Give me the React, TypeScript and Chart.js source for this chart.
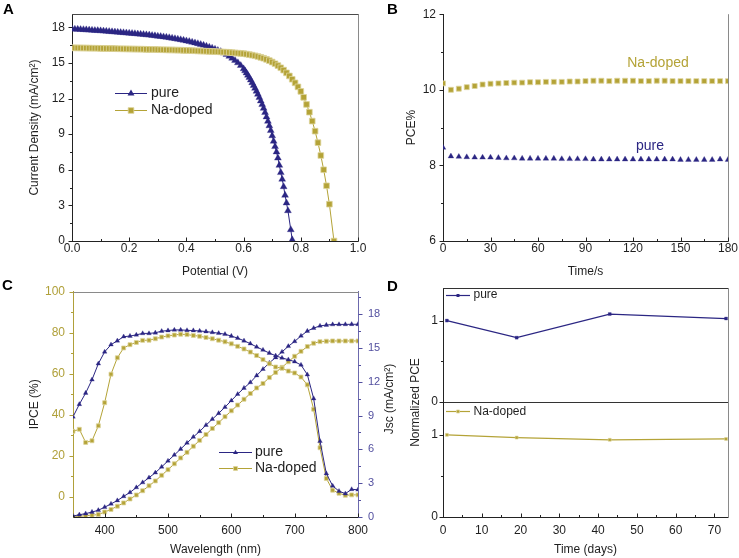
import React, { useEffect, useRef } from "react";
import { Chart, registerables } from "chart.js";

Chart.register(...registerables);

const FONT = "'Liberation Sans', Arial, Helvetica, sans-serif";
Chart.defaults.font.family = FONT;
Chart.defaults.font.size = 12;

const seriesNames = ["pure", "Na-doped"];

// ---------------- Panel A : J-V curves ----------------
const jvPureVoltage = [
  0, 0.01, 0.02, 0.03, 0.04, 0.05, 0.06, 0.07, 0.08, 0.09,
  0.1, 0.11, 0.12, 0.13, 0.14, 0.15, 0.16, 0.17, 0.18, 0.19,
  0.2, 0.21, 0.22, 0.23, 0.24, 0.25, 0.26, 0.27, 0.28, 0.29,
  0.3, 0.31, 0.32, 0.33, 0.34, 0.35, 0.36, 0.37, 0.38, 0.39,
  0.4, 0.41, 0.42, 0.43, 0.44, 0.45, 0.46, 0.47, 0.48, 0.49,
  0.5, 0.51, 0.52, 0.53, 0.54, 0.55, 0.56, 0.57, 0.58, 0.59,
  0.6, 0.605, 0.61, 0.615, 0.62, 0.625, 0.63, 0.635, 0.64, 0.645,
  0.65, 0.655, 0.66, 0.665, 0.67, 0.675, 0.68, 0.685, 0.69, 0.695,
  0.7, 0.705, 0.71, 0.715, 0.72, 0.725, 0.73, 0.735, 0.74, 0.745,
  0.75, 0.755, 0.765, 0.77,
];
const jvPureCurrent = [
  17.86, 17.84, 17.83, 17.81, 17.8, 17.78, 17.76, 17.75, 17.73, 17.72,
  17.7, 17.68, 17.66, 17.64, 17.62, 17.6, 17.58, 17.56, 17.54, 17.52,
  17.5, 17.48, 17.46, 17.43, 17.41, 17.39, 17.36, 17.34, 17.31, 17.28,
  17.25, 17.22, 17.19, 17.15, 17.12, 17.08, 17.04, 17.0, 16.95, 16.9,
  16.85, 16.8, 16.74, 16.68, 16.62, 16.55, 16.48, 16.4, 16.32, 16.24,
  16.15, 16.05, 15.95, 15.83, 15.7, 15.55, 15.39, 15.21, 15.01, 14.78,
  14.5, 14.33, 14.15, 13.96, 13.76, 13.55, 13.33, 13.1, 12.86, 12.61,
  12.35, 12.08, 11.79, 11.49, 11.17, 10.82, 10.45, 10.08, 9.7, 9.3,
  8.86, 8.4, 7.95, 7.5, 6.98, 6.37, 5.76, 5.2, 4.57, 3.85,
  3.2, 2.55, 0.95, 0.1,
];
const jvNaVoltage = [
  0, 0.01, 0.02, 0.03, 0.04, 0.05, 0.06, 0.07, 0.08, 0.09,
  0.1, 0.11, 0.12, 0.13, 0.14, 0.15, 0.16, 0.17, 0.18, 0.19,
  0.2, 0.21, 0.22, 0.23, 0.24, 0.25, 0.26, 0.27, 0.28, 0.29,
  0.3, 0.31, 0.32, 0.33, 0.34, 0.35, 0.36, 0.37, 0.38, 0.39,
  0.4, 0.41, 0.42, 0.43, 0.44, 0.45, 0.46, 0.47, 0.48, 0.49,
  0.5, 0.51, 0.52, 0.53, 0.54, 0.55, 0.56, 0.57, 0.58, 0.59,
  0.6, 0.61, 0.62, 0.63, 0.64, 0.65, 0.66, 0.67, 0.68, 0.69,
  0.7, 0.71, 0.72, 0.73, 0.74, 0.75, 0.76, 0.77, 0.78, 0.79,
  0.8, 0.81, 0.82, 0.83, 0.84, 0.85, 0.86, 0.87, 0.88, 0.89,
  0.9, 0.916,
];
const jvNaCurrent = [
  16.27, 16.27, 16.26, 16.26, 16.25, 16.25, 16.24, 16.24, 16.23, 16.23,
  16.22, 16.22, 16.21, 16.21, 16.2, 16.2, 16.19, 16.19, 16.18, 16.18,
  16.17, 16.17, 16.16, 16.16, 16.15, 16.15, 16.14, 16.14, 16.13, 16.13,
  16.12, 16.11, 16.11, 16.1, 16.09, 16.09, 16.08, 16.07, 16.07, 16.06,
  16.05, 16.04, 16.03, 16.02, 16.01, 16.0, 15.99, 15.98, 15.97, 15.96,
  15.95, 15.94, 15.93, 15.91, 15.9, 15.88, 15.86, 15.84, 15.82, 15.8,
  15.78, 15.74, 15.7, 15.65, 15.6, 15.54, 15.47, 15.39, 15.3, 15.19,
  15.07, 14.93, 14.77, 14.59, 14.39, 14.16, 13.9, 13.62, 13.32, 12.98,
  12.6, 12.1, 11.5, 10.85, 10.1, 9.25, 8.28, 7.2, 6.0, 4.65,
  3.1, 0.0,
];
const jvVoltageTicks = [0, 0.2, 0.4, 0.6, 0.8, 1.0];
const jvVoltageMinor = [0.1, 0.3, 0.5, 0.7, 0.9];
const jvCurrentTicks = [0, 3, 6, 9, 12, 15, 18];
const jvCurrentMinor = [1.5, 4.5, 7.5, 10.5, 13.5, 16.5];

// ---------------- Panel B : PCE vs time ----------------
const pceTime = [
  0, 5, 10, 15, 20, 25, 30, 35, 40, 45, 50, 55, 60, 65, 70, 75, 80, 85, 90,
  95, 100, 105, 110, 115, 120, 125, 130, 135, 140, 145, 150, 155, 160, 165, 170, 175, 180,
];
const pceNa = [
  10.17, 10.0, 10.03, 10.07, 10.1, 10.14, 10.16, 10.17, 10.18, 10.19,
  10.19, 10.2, 10.2, 10.21, 10.21, 10.21, 10.22, 10.22, 10.23, 10.24,
  10.24, 10.23, 10.24, 10.24, 10.24, 10.23, 10.23, 10.24, 10.24, 10.23,
  10.23, 10.23, 10.23, 10.23, 10.23, 10.23, 10.23,
];
const pcePure = [
  8.47, 8.24, 8.23, 8.22, 8.21, 8.21, 8.21, 8.2, 8.19, 8.19,
  8.18, 8.18, 8.18, 8.18, 8.18, 8.17, 8.17, 8.17, 8.17, 8.16,
  8.16, 8.16, 8.16, 8.16, 8.16, 8.16, 8.16, 8.16, 8.16, 8.16,
  8.15, 8.15, 8.15, 8.15, 8.15, 8.16, 8.15,
];
const pceTimeTicks = [0, 30, 60, 90, 120, 150, 180];
const pceTimeMinor = [15, 45, 75, 105, 135, 165];
const pceTicks = [6, 8, 10, 12];
const pceMinor = [7, 9, 11];

// ---------------- Panel C : IPCE and integrated Jsc ----------------
const wavelengths = [
  350, 360, 370, 380, 390, 400, 410, 420, 430, 440, 450, 460, 470, 480, 490, 500,
  510, 520, 530, 540, 550, 560, 570, 580, 590, 600, 610, 620, 630, 640, 650, 660,
  670, 680, 690, 700, 710, 720, 730, 740, 750, 760, 770, 780, 790, 800,
];
const ipcePure = [
  38.9, 45.0, 50.5, 57.0, 64.8, 70.6, 74.1, 76.0, 78.0, 78.3,
  78.9, 79.6, 79.6, 79.9, 80.7, 81.0, 81.3, 81.3, 81.1, 81.0,
  80.8, 80.5, 80.1, 79.7, 79.2, 78.3, 77.3, 76.0, 74.6, 73.0,
  71.5, 70.0, 68.7, 67.6, 66.8, 65.8, 64.2, 59.5, 47.8, 27.0,
  11.2, 5.2, 2.6, 1.4, 3.5, 3.3,
];
const ipceNa = [
  31.8, 32.8, 26.4, 27.2, 34.5, 45.8, 59.7, 67.7, 72.5, 74.1,
  75.2, 76.2, 76.3, 77.0, 77.8, 78.4, 78.8, 79.2, 79.0, 78.6,
  78.2, 77.6, 77.0, 76.3, 75.5, 74.5, 73.3, 72.0, 70.5, 68.8,
  66.8, 64.8, 63.2, 62.6, 61.2, 60.3, 58.3, 54.5, 42.6, 23.8,
  8.8, 3.1, 1.6, 0.6, 0.8, 0.8,
];
const jscPure = [
  0.08, 0.2, 0.3, 0.44, 0.6, 0.87, 1.16, 1.46, 1.83, 2.18,
  2.62, 3.06, 3.49, 3.93, 4.45, 4.98, 5.5, 6.03, 6.57, 7.1,
  7.6, 8.15, 8.68, 9.2, 9.75, 10.33, 10.9, 11.44, 11.94, 12.55,
  13.12, 13.68, 14.15, 14.65, 15.15, 15.58, 16.07, 16.5, 16.76, 16.96,
  17.03, 17.08, 17.09, 17.09, 17.1, 17.1,
];
const jscNa = [
  0.0, 0.06, 0.12, 0.16, 0.22, 0.44, 0.67, 0.96, 1.25, 1.6,
  1.95, 2.33, 2.77, 3.2, 3.7, 4.2, 4.72, 5.24, 5.74, 6.28,
  6.8, 7.32, 7.85, 8.37, 8.9, 9.42, 9.93, 10.45, 10.96, 11.45,
  11.85, 12.37, 12.83, 13.28, 13.77, 14.26, 14.7, 15.12, 15.42, 15.56,
  15.6, 15.62, 15.62, 15.62, 15.62, 15.62,
];
const wlTicks = [400, 500, 600, 700, 800];
const wlMinor = [350, 450, 550, 650, 750];
const ipceTicks = [0, 20, 40, 60, 80, 100];
const ipceMinor = [10, 30, 50, 70, 90];
const jscTicks = [0, 3, 6, 9, 12, 15, 18];
const jscMinor = [1.5, 4.5, 7.5, 10.5, 13.5, 16.5, 19.5];

// ---------------- Panel D : normalized PCE vs days ----------------
const stabilityDays = [1, 19, 43, 73];
const normPcePure = [1.0, 0.79, 1.08, 1.025];
const normPceNa = [1.0, 0.967, 0.94, 0.95];
const dayTicks = [0, 10, 20, 30, 40, 50, 60, 70];
const dayMinor = [5, 15, 25, 35, 45, 55, 65];
const normTicks = [0, 1];
const normMinor = [0.5];

// ---------------- styling ----------------
const PURPLE = "#2b2683";
const GOLD = "#b4a337";
const GOLD_HALO = "#ddd49c";
const TEXT = "#1f1f1f";
const AXIS = "#222222";

type Pt = { x: number; y: number };
const toPoints = (xs: number[], ys: number[]): Pt[] => xs.map((x, i) => ({ x, y: ys[i] }));

type TickSpec = { scale: string; values: number[]; len: number; dir: "in" | "out"; color: string };
type TextSpec = { text: string; x: number; y: number; size: number; color: string; bold?: boolean; align?: CanvasTextAlign; rotate?: number };
type LegendSpec = { x1: number; x2: number; y: number; color: string; marker: "triangle" | "rect"; r: number; halo?: string; text: string; tx: number; size: number; lw?: number };
type FrameSpec = { side: "top" | "right" | "bottom"; color: string };
type DecorSpec = { frames?: FrameSpec[]; ticks?: TickSpec[]; legend?: LegendSpec[]; texts?: TextSpec[] };

function drawMarker(ctx: CanvasRenderingContext2D, kind: string, x: number, y: number, r: number, fill: string, halo?: string) {
  ctx.beginPath();
  if (kind === "triangle") {
    ctx.moveTo(x, y - r);
    ctx.lineTo(x + r * 0.866, y + r * 0.5);
    ctx.lineTo(x - r * 0.866, y + r * 0.5);
    ctx.closePath();
  } else {
    const s = r * Math.SQRT1_2;
    ctx.rect(x - s, y - s, 2 * s, 2 * s);
  }
  ctx.fillStyle = fill;
  ctx.fill();
  if (halo) {
    ctx.strokeStyle = halo;
    ctx.lineWidth = 0.8;
    ctx.stroke();
  }
}

const px = (v: number) => Math.round(v) + 0.5;

function decor(spec: DecorSpec) {
  return {
    id: "decor",
    beforeDatasetsDraw(chart: any) {
      const ctx: CanvasRenderingContext2D = chart.ctx;
      const ca = chart.chartArea;
      ctx.save();
      for (const f of spec.frames ?? []) {
        ctx.strokeStyle = f.color;
        ctx.lineWidth = 1;
        ctx.beginPath();
        if (f.side === "top") {
          ctx.moveTo(ca.left, px(ca.top));
          ctx.lineTo(ca.right + 1, px(ca.top));
        } else if (f.side === "bottom") {
          ctx.moveTo(ca.left, px(ca.bottom));
          ctx.lineTo(ca.right + 1, px(ca.bottom));
        } else {
          ctx.moveTo(px(ca.right), ca.top);
          ctx.lineTo(px(ca.right), ca.bottom + 1);
        }
        ctx.stroke();
      }
      ctx.restore();
    },
    afterDraw(chart: any) {
      const ctx: CanvasRenderingContext2D = chart.ctx;
      const ca = chart.chartArea;
      ctx.save();
      for (const t of spec.ticks ?? []) {
        const s = chart.scales[t.scale];
        ctx.strokeStyle = t.color;
        ctx.lineWidth = 1;
        ctx.beginPath();
        for (const v of t.values) {
          const p = px(s.getPixelForValue(v));
          if (s.isHorizontal()) {
            const y0 = px(ca.bottom);
            ctx.moveTo(p, y0);
            ctx.lineTo(p, t.dir === "in" ? y0 - t.len : y0 + t.len);
          } else if (s.position === "left") {
            const x0 = px(ca.left);
            ctx.moveTo(x0, p);
            ctx.lineTo(t.dir === "out" ? x0 - t.len : x0 + t.len, p);
          } else {
            const x0 = px(ca.right);
            ctx.moveTo(x0, p);
            ctx.lineTo(t.dir === "out" ? x0 + t.len : x0 - t.len, p);
          }
        }
        ctx.stroke();
      }
      for (const l of spec.legend ?? []) {
        const y = px(l.y);
        ctx.strokeStyle = l.color;
        ctx.lineWidth = l.lw ?? 1;
        ctx.beginPath();
        ctx.moveTo(l.x1, y);
        ctx.lineTo(l.x2, y);
        ctx.stroke();
        drawMarker(ctx, l.marker, (l.x1 + l.x2) / 2, y, l.r, l.color, l.halo);
        ctx.fillStyle = TEXT;
        ctx.font = `${l.size}px ${FONT}`;
        ctx.textAlign = "left";
        ctx.textBaseline = "middle";
        ctx.fillText(l.text, l.tx, l.y);
      }
      for (const t of spec.texts ?? []) {
        ctx.save();
        ctx.translate(t.x, t.y);
        if (t.rotate) ctx.rotate(t.rotate);
        ctx.font = `${t.bold ? "bold " : ""}${t.size}px ${FONT}`;
        ctx.fillStyle = t.color;
        ctx.textAlign = t.align ?? "center";
        ctx.textBaseline = "middle";
        ctx.fillText(t.text, 0, 0);
        ctx.restore();
      }
      ctx.restore();
    },
  };
}

type AxisOpts = {
  min: number;
  max: number;
  ticks: number[];
  size: number;
  horizontal: boolean;
  pad: number;
  color?: string;
  line?: string;
  fontSize?: number;
  fmt?: (v: number) => string;
  title?: string;
  titlePad?: { top: number; bottom: number };
  position?: string;
  display?: boolean;
};

function linAxis(o: AxisOpts) {
  return {
    type: "linear",
    position: o.position ?? (o.horizontal ? "bottom" : "left"),
    display: o.display ?? true,
    min: o.min,
    max: o.max,
    afterBuildTicks: (s: any) => {
      s.ticks = o.ticks.map((value) => ({ value }));
    },
    afterFit: (s: any) => {
      if (o.horizontal) s.height = o.size;
      else s.width = o.size;
    },
    grid: { display: false, drawTicks: false },
    border: { display: true, color: o.line ?? AXIS, width: 1 },
    ticks: {
      padding: o.pad,
      color: o.color ?? TEXT,
      font: { size: o.fontSize ?? 12, family: FONT },
      autoSkip: false,
      maxRotation: 0,
      minRotation: 0,
      callback: (v: any) => (o.fmt ? o.fmt(Number(v)) : String(v)),
    },
    title: o.title
      ? { display: true, text: o.title, color: TEXT, font: { size: 12, family: FONT }, padding: o.titlePad ?? { top: 0, bottom: 0 } }
      : { display: false },
  };
}

const baseOptions = (padding: any, scales: any) => ({
  responsive: false,
  animation: false,
  events: [],
  layout: { padding },
  plugins: { legend: { display: false }, tooltip: { enabled: false } },
  elements: { line: { tension: 0 } },
  scales,
});

function purpleSet(label: string, data: Pt[], r: number, marker: string, extra: any = {}) {
  return {
    label,
    data,
    borderColor: PURPLE,
    backgroundColor: PURPLE,
    borderWidth: 1,
    pointStyle: marker,
    pointRadius: r,
    pointBackgroundColor: PURPLE,
    pointBorderColor: PURPLE,
    pointBorderWidth: 0.3,
    ...extra,
  };
}
function goldSet(label: string, data: Pt[], r: number, extra: any = {}) {
  return {
    label,
    data,
    borderColor: GOLD,
    backgroundColor: GOLD,
    borderWidth: 1,
    pointStyle: "rect",
    pointRadius: r,
    pointBackgroundColor: GOLD,
    pointBorderColor: GOLD_HALO,
    pointBorderWidth: 0.8,
    ...extra,
  };
}

function configA(): any {
  return {
    type: "line",
    data: {
      datasets: [
        goldSet(seriesNames[1], toPoints(jvNaVoltage, jvNaCurrent), 4, { order: 0 }),
        purpleSet(seriesNames[0], toPoints(jvPureVoltage, jvPureCurrent), 4, "triangle", { order: 1 }),
      ],
    },
    options: baseOptions(
      { left: 0, top: 11, right: 12, bottom: 0 },
      {
        x: linAxis({ min: 0, max: 1, ticks: jvVoltageTicks, size: 39, horizontal: true, pad: 0, fmt: (v) => v.toFixed(1), title: "Potential (V)", titlePad: { top: 0, bottom: 0.8 } }),
        y: linAxis({ min: 0, max: 19.1, ticks: jvCurrentTicks, size: 72, horizontal: false, pad: 7, title: "Current Density (mA/cm\u00B2)", titlePad: { top: 27, bottom: 0 } }),
      }
    ),
    plugins: [
      decor({
        frames: [
          { side: "top", color: "#4a4a4a" },
          { side: "right", color: "#8a8a8a" },
        ],
        ticks: [
          { scale: "x", values: jvVoltageTicks, len: 4, dir: "in", color: AXIS },
          { scale: "x", values: jvVoltageMinor, len: 2.5, dir: "in", color: AXIS },
          { scale: "y", values: jvCurrentTicks, len: 4, dir: "out", color: AXIS },
          { scale: "y", values: jvCurrentMinor, len: 2.5, dir: "out", color: AXIS },
        ],
        legend: [
          { x1: 115, x2: 147, y: 92.7, color: PURPLE, marker: "triangle", r: 4, text: seriesNames[0], tx: 151, size: 14 },
          { x1: 115, x2: 147, y: 110, color: GOLD, marker: "rect", r: 4, halo: GOLD_HALO, text: seriesNames[1], tx: 151, size: 14 },
        ],
        texts: [{ text: "A", x: 3, y: 10, size: 15, color: "#000", bold: true, align: "left" }],
      }),
    ],
  };
}

function configB(): any {
  return {
    type: "line",
    data: {
      datasets: [
        goldSet(seriesNames[1], toPoints(pceTime, pceNa), 3.5, { showLine: false }),
        purpleSet(seriesNames[0], toPoints(pceTime, pcePure), 3.3, "triangle", { showLine: false }),
      ],
    },
    options: baseOptions(
      { left: 0, top: 11, right: 11, bottom: 0 },
      {
        x: linAxis({ min: 0, max: 180, ticks: pceTimeTicks, size: 39, horizontal: true, pad: 0, title: "Time/s", titlePad: { top: 0, bottom: 0.8 } }),
        y: linAxis({ min: 6, max: 12, ticks: pceTicks, size: 73, horizontal: false, pad: 7, title: "PCE%", titlePad: { top: 34.8, bottom: 0 } }),
      }
    ),
    plugins: [
      decor({
        frames: [{ side: "right", color: "#8a8a8a" }],
        ticks: [
          { scale: "x", values: pceTimeTicks, len: 4, dir: "in", color: AXIS },
          { scale: "x", values: pceTimeMinor, len: 2.5, dir: "in", color: AXIS },
          { scale: "y", values: pceTicks, len: 4, dir: "out", color: AXIS },
          { scale: "y", values: pceMinor, len: 2.5, dir: "out", color: AXIS },
        ],
        texts: [
          { text: "B", x: 17, y: 10, size: 15, color: "#000", bold: true, align: "left" },
          { text: seriesNames[1], x: 288, y: 62.7, size: 14, color: GOLD },
          { text: seriesNames[0], x: 280, y: 145.7, size: 14, color: PURPLE },
        ],
      }),
    ],
  };
}

const C_LEFT = "#b0a03a";
const C_RIGHT = "#524f9f";

function configC(): any {
  return {
    type: "line",
    data: {
      datasets: [
        purpleSet(seriesNames[0], toPoints(wavelengths, ipcePure), 2.7, "triangle", { yAxisID: "y" }),
        goldSet(seriesNames[1], toPoints(wavelengths, ipceNa), 2.8, { yAxisID: "y" }),
        purpleSet(seriesNames[0], toPoints(wavelengths, jscPure), 2.7, "triangle", { yAxisID: "y2" }),
        goldSet(seriesNames[1], toPoints(wavelengths, jscNa), 2.8, { yAxisID: "y2" }),
      ],
    },
    options: baseOptions(
      { left: 0, top: 13, right: 0, bottom: 0 },
      {
        x: linAxis({ min: 350, max: 800, ticks: wlTicks, size: 41, horizontal: true, pad: 6, title: "Wavelength (nm)", titlePad: { top: 0, bottom: 0.8 } }),
        y: linAxis({ min: -10, max: 100, ticks: ipceTicks, size: 73, horizontal: false, pad: 8, color: C_LEFT, line: C_LEFT, title: "IPCE (%)", titlePad: { top: 27.8, bottom: 0 } }),
        y2: linAxis({ min: 0, max: 20, ticks: jscTicks, size: 42, horizontal: false, pad: 10, fontSize: 11, color: C_RIGHT, line: "#6c69ad", position: "right" }),
      }
    ),
    plugins: [
      decor({
        frames: [{ side: "top", color: "#8a8a8a" }],
        ticks: [
          { scale: "x", values: wlTicks, len: 4, dir: "in", color: AXIS },
          { scale: "x", values: wlMinor, len: 2.5, dir: "in", color: AXIS },
          { scale: "y", values: ipceTicks, len: 4, dir: "out", color: C_LEFT },
          { scale: "y", values: ipceMinor, len: 2.5, dir: "out", color: C_LEFT },
          { scale: "y2", values: jscTicks, len: 4, dir: "out", color: C_RIGHT },
          { scale: "y2", values: jscMinor, len: 2.5, dir: "out", color: C_RIGHT },
        ],
        legend: [
          { x1: 219, x2: 252, y: 176.7, color: PURPLE, marker: "triangle", r: 2.8, text: seriesNames[0], tx: 255, size: 14 },
          { x1: 219, x2: 252, y: 193.3, color: GOLD, marker: "rect", r: 2.8, halo: GOLD_HALO, text: seriesNames[1], tx: 255, size: 14 },
        ],
        texts: [
          { text: "C", x: 2, y: 11, size: 15, color: "#000", bold: true, align: "left" },
          { text: "Jsc (mA/cm\u00B2)", x: 390, y: 124, size: 12, color: TEXT, rotate: -Math.PI / 2 },
        ],
      }),
    ],
  };
}

function configDTop(): any {
  return {
    type: "line",
    data: {
      datasets: [purpleSet(seriesNames[0], toPoints(stabilityDays, normPcePure), 2.1, "rect", { borderWidth: 1.2 })],
    },
    options: baseOptions(
      { left: 0, top: 13, right: 11, bottom: 156 },
      {
        x: linAxis({ min: 0, max: 73.5, ticks: dayTicks, size: 0, horizontal: true, pad: 0, display: false }),
        y: linAxis({ min: 0, max: 1.4, ticks: normTicks, size: 73, horizontal: false, pad: 5 }),
      }
    ),
    plugins: [
      decor({
        frames: [
          { side: "top", color: "#333" },
          { side: "right", color: "#8a8a8a" },
          { side: "bottom", color: "#333" },
        ],
        ticks: [
          { scale: "y", values: normTicks, len: 4, dir: "out", color: AXIS },
          { scale: "y", values: normMinor, len: 2.5, dir: "out", color: AXIS },
        ],
        legend: [{ x1: 76, x2: 100, y: 20, color: PURPLE, marker: "rect", r: 2.1, text: seriesNames[0], tx: 103.5, size: 12, lw: 1.2 }],
        texts: [{ text: "D", x: 17, y: 12, size: 15, color: "#000", bold: true, align: "left" }],
      }),
    ],
  };
}

function configDBottom(): any {
  return {
    type: "line",
    data: {
      datasets: [goldSet(seriesNames[1], toPoints(stabilityDays, normPceNa), 2.1, { borderWidth: 1.2, pointBorderWidth: 0.5 })],
    },
    options: baseOptions(
      { left: 0, top: 127, right: 11, bottom: 0 },
      {
        x: linAxis({ min: 0, max: 73.5, ticks: dayTicks, size: 41, horizontal: true, pad: 6, title: "Time (days)", titlePad: { top: 0, bottom: 0.8 } }),
        y: linAxis({ min: 0, max: 1.4, ticks: normTicks, size: 73, horizontal: false, pad: 5 }),
      }
    ),
    plugins: [
      decor({
        frames: [{ side: "right", color: "#8a8a8a" }],
        ticks: [
          { scale: "x", values: dayTicks, len: 4, dir: "in", color: AXIS },
          { scale: "x", values: dayMinor, len: 2.5, dir: "in", color: AXIS },
          { scale: "y", values: normTicks, len: 4, dir: "out", color: AXIS },
          { scale: "y", values: normMinor, len: 2.5, dir: "out", color: AXIS },
        ],
        legend: [{ x1: 76, x2: 100, y: 136.3, color: GOLD, marker: "rect", r: 2.1, halo: GOLD_HALO, text: seriesNames[1], tx: 103.5, size: 12, lw: 1.2 }],
        texts: [{ text: "Normalized PCE", x: 46, y: 127.5, size: 12, color: TEXT, rotate: -Math.PI / 2 }],
      }),
    ],
  };
}

function Panel(props: { make: () => any; left: number; top: number; width: number; height: number }) {
  const ref = useRef<HTMLCanvasElement>(null);
  useEffect(() => {
    const chart = new Chart(ref.current as HTMLCanvasElement, props.make());
    return () => chart.destroy();
  }, []);
  return (
    <canvas
      ref={ref}
      width={props.width}
      height={props.height}
      style={{ position: "absolute", left: props.left, top: props.top, width: props.width, height: props.height }}
    />
  );
}

export default function App() {
  return (
    <div style={{ position: "fixed", left: 0, top: 0, width: 739, height: 558, background: "#fff", overflow: "hidden" }}>
      <Panel make={configA} left={0} top={0} width={370} height={280} />
      <Panel make={configB} left={370} top={0} width={369} height={280} />
      <Panel make={configC} left={0} top={275} width={400} height={283} />
      <Panel make={configDTop} left={370} top={275} width={369} height={283} />
      <Panel make={configDBottom} left={370} top={275} width={369} height={283} />
    </div>
  );
}
